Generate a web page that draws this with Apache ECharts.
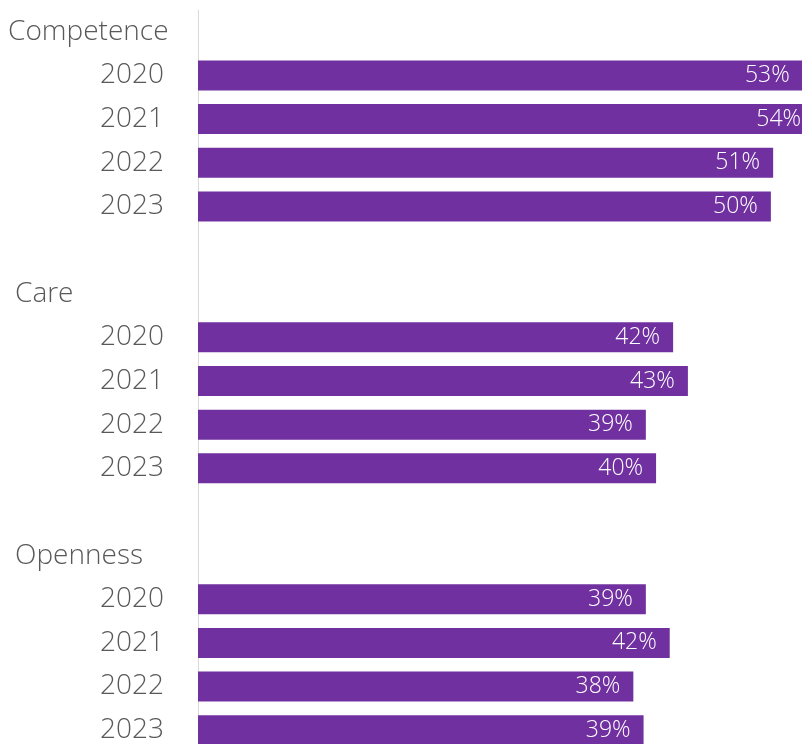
<!DOCTYPE html>
<html>
<head>
<meta charset="utf-8">
<script src="https://cdn.jsdelivr.net/npm/echarts@6/dist/echarts.min.js"></script>
<style>
  html, body { margin: 0; padding: 0; background: #fff; }
  #chart { width: 802px; height: 744px; }
</style>
</head>
<body>
<div id="chart"></div>
<script>
// rows, top to bottom (blank strings are spacer rows)
const categories = [
  'Competence', '2020', '2021', '2022', '2023', '',
  'Care', '2020', '2021', '2022', '2023', ' ',
  'Openness', '2020', '2021', '2022', '2023'
]
const headers = ['Competence', 'Care', 'Openness']
// percent values
const values = [
  null, 53.2, 54.2, 50.6, 50.4, null,
  null, 41.8, 43.1, 39.4, 40.3, null,
  null, 39.4, 41.5, 38.3, 39.2
]

const chart = echarts.init(document.getElementById('chart'))
const font = '"Open Sans", sans-serif'

const option = {
  animation: false,
  grid: {
    left: 198,
    top: 10,
    width: 682,
    height: 742,
    outerBoundsMode: 'none',
    containLabel: false
  },
  xAxis: {
    type: 'value',
    min: 0,
    max: 60,
    show: false
  },
  yAxis: {
    type: 'category',
    inverse: true,
    data: categories,
    axisLine: {
      show: true,
      lineStyle: { color: '#d9d9d9', width: 1 }
    },
    axisTick: { show: false },
    axisLabel: {
      margin: 34,
      color: '#595959',
      fontFamily: font,
      fontWeight: 300,
      fontSize: 28,
      interval: 0,
      formatter: function(v) {
        if (v === 'Competence') return '{h1|' + v + '}'
        if (headers.indexOf(v) >= 0) return '{h2|' + v + '}'
        return v
      },
      rich: {
        h1: { width: 156, align: 'left', color: '#595959', fontFamily: font, fontWeight: 300, fontSize: 28 },
        h2: { width: 149, align: 'left', color: '#595959', fontFamily: font, fontWeight: 300, fontSize: 28 }
      }
    }
  },
  series: [{
    type: 'bar',
    data: values,
    barWidth: 30,
    itemStyle: { color: '#7030A0' },
    label: {
      show: true,
      position: 'insideRight',
      distance: 13,
      color: '#fff',
      fontFamily: font,
      fontWeight: 300,
      fontSize: 23,
      formatter: function(p) {
        return Math.round(p.value) + '%'
      }
    }
  }]
}
chart.setOption(option)
</script>
</body>
</html>
